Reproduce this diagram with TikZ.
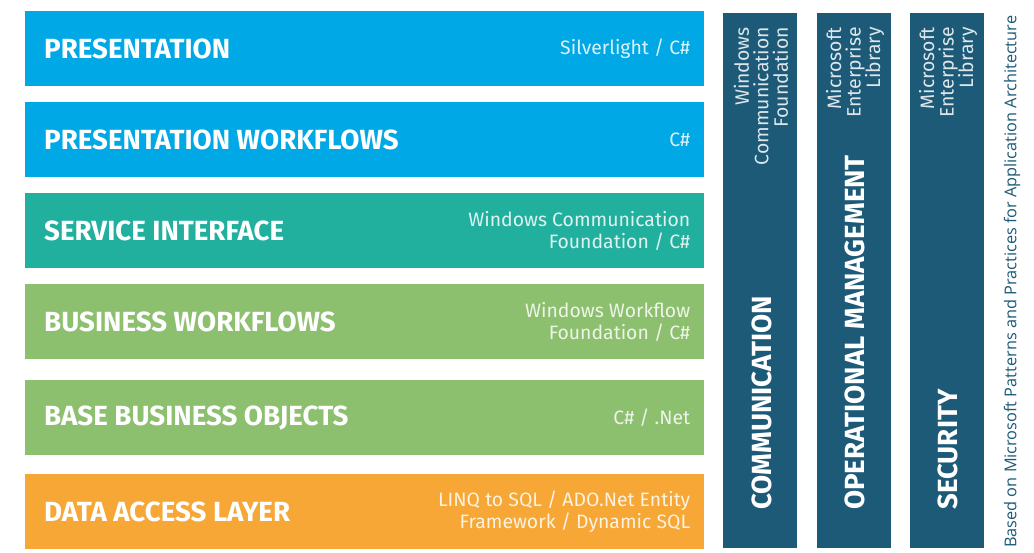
\documentclass[tikz,border=0pt]{standalone}
\usepackage{fontspec}
\setmainfont{Fira Sans}
\newfontfamily\capfont{Open Sans}
\definecolor{cblue}{RGB}{0,169,229}
\definecolor{cteal}{RGB}{34,176,158}
\definecolor{cgreen}{RGB}{140,191,110}
\definecolor{corange}{RGB}{246,167,53}
\definecolor{cdark}{RGB}{28,90,120}
\tikzset{
  layer/.style={fill=#1, draw=none, minimum width=679pt, minimum height=75pt, anchor=north west, inner sep=0pt},
  pillar/.style={fill=cdark, draw=none, minimum width=74pt, minimum height=535pt, anchor=north west, inner sep=0pt},
  bigtxt/.style={text=white, font=\bfseries\fontsize{27.7}{30}\selectfont, anchor=west, inner sep=0pt},
  smalltxt/.style={text=white, text opacity=0.85, font=\fontsize{19.4}{22.5}\selectfont, align=right, anchor=east, inner sep=0pt},
  vbig/.style={text=white, font=\bfseries\fontsize{27.7}{30}\selectfont, rotate=90, anchor=west, inner sep=0pt},
  vsmall/.style={text=white, text opacity=0.85, font=\fontsize{19.4}{19.5}\selectfont, rotate=90, align=right, anchor=east, inner sep=0pt},
}
\begin{document}
\begin{tikzpicture}[x=1pt,y=-1pt]
\useasboundingbox[fill=white] (0,0) rectangle (1034,552);
% layers
\node[layer=cblue]   (l1) at (25,11) {};
\node[layer=cblue]   (l2) at (25,102) {};
\node[layer=cteal]   (l3) at (25,193) {};
\node[layer=cgreen]  (l4) at (25,284) {};
\node[layer=cgreen]  (l5) at (25,380) {};
\node[layer=corange] (l6) at (25,474) {};
\foreach \n/\t in {l1/PRESENTATION, l2/PRESENTATION WORKFLOWS, l3/SERVICE INTERFACE, l4/BUSINESS WORKFLOWS, l5/BASE BUSINESS OBJECTS, l6/DATA ACCESS LAYER}{
  \node[bigtxt] (\n t) at ([xshift=19pt]\n.west) {\t};
}
\node[smalltxt] (l1s) at ([xshift=-14pt]l1.east) {Silverlight / C\#};
\node[smalltxt] (l2s) at ([xshift=-14pt]l2.east) {C\#};
\node[smalltxt] (l3s) at ([xshift=-14pt]l3.east) {Windows Communication\\Foundation / C\#};
\node[smalltxt] (l4s) at ([xshift=-14pt]l4.east) {Windows Workflow\\Foundation / C\#};
\node[smalltxt] (l5s) at ([xshift=-14pt]l5.east) {C\# / .Net};
\node[smalltxt] (l6s) at ([xshift=-14pt]l6.east) {LINQ to SQL / ADO.Net Entity\\Framework / Dynamic SQL};
% pillars
\node[pillar] (p1) at (723,13) {};
\node[pillar] (p2) at (817,13) {};
\node[pillar] (p3) at (910,13) {};
\node[vbig] (p1t) at (762,510) {COMMUNICATION};
\node[vbig] (p2t) at (855,510) {OPERATIONAL MANAGEMENT};
\node[vbig] (p3t) at (948,510) {SECURITY};
\node[vsmall] (p1s) at (761,27) {Windows\\Communication\\Foundation};
\node[vsmall] (p2s) at (855,27) {Microsoft\\Enterprise\\Library};
\node[vsmall] (p3s) at (948,27) {Microsoft\\Enterprise\\Library};
% caption
\node[text=cdark, font=\capfont\fontsize{16.3}{18}\selectfont, rotate=90, anchor=west, inner sep=0pt] (cap) at (1012,548) {Based on Microsoft Patterns and Practices for Application Architecture};
\end{tikzpicture}
\end{document}
